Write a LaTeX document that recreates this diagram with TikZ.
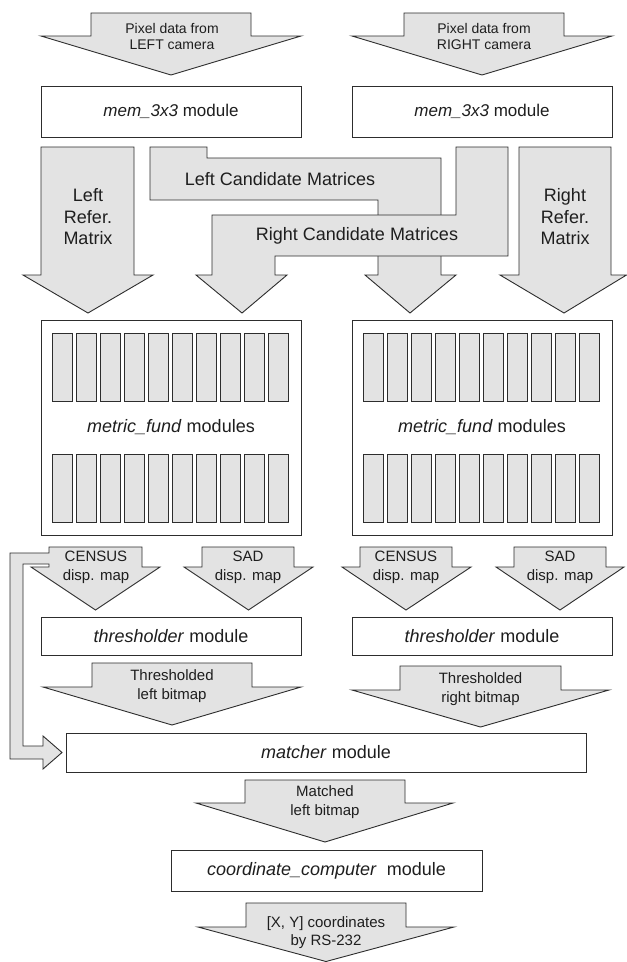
\documentclass[tikz,border=0pt]{standalone}
\usepackage{fontspec}
\setmainfont{Liberation Sans}
\definecolor{fillg}{RGB}{227,227,227}
\definecolor{lineg}{RGB}{45,45,45}
\definecolor{textg}{RGB}{30,30,30}
\newcommand{\fsP}{\fontsize{14bp}{16bp}\selectfont}
\newcommand{\fsM}{\fontsize{17bp}{20bp}\selectfont}
\newcommand{\fsB}{\fontsize{18bp}{21.5bp}\selectfont}
\newcommand{\fsS}{\fontsize{15bp}{18.5bp}\selectfont}
\tikzset{
  blk/.style={fill=fillg, draw=lineg, line width=0.9bp, line join=miter},
  modbox/.style={draw=lineg, fill=white, line width=0.9bp, inner sep=0pt, text=textg, align=center},
  barbox/.style={draw=lineg, fill=fillg, line width=0.9bp},
  lbl/.style={text=textg, align=center, inner sep=0pt},
}
% shaft-left, shaft-right, top, shoulder, wing-left, wing-right, tip-x, tip-y
\newcommand{\blockdown}[8]{\draw[blk] (#1,#3) -- (#2,#3) -- (#2,#4) -- (#6,#4) -- (#7,#8) -- (#5,#4) -- (#1,#4) -- cycle;}
\begin{document}
\begin{tikzpicture}[x=1bp,y=-1bp]
\fill[white] (0,0) rectangle (627,962);
\useasboundingbox (0,0) rectangle (627,962);

% --- camera inputs
\blockdown{91}{251}{13}{36}{41}{301}{171}{75}
\node[lbl, font=\fsP] (pixL) at (172,36) {Pixel data from\\LEFT camera};
\blockdown{404}{564}{13}{36}{352}{612}{482}{75}
\node[lbl, font=\fsP] (pixR) at (484,36) {Pixel data from\\RIGHT camera};

% --- mem_3x3 modules
\node[modbox, minimum width=260bp, minimum height=51bp, font=\fsM] (memL) at (171,111.5) {\textit{mem\_3x3} module};
\node[modbox, minimum width=260bp, minimum height=51bp, font=\fsM] (memR) at (482,111.5) {\textit{mem\_3x3} module};

% --- reference matrices
\blockdown{41}{134}{147}{275}{23}{153}{88}{313}
\node[lbl, font=\fsB] (refL) at (88,217) {Left\\Refer.\\Matrix};
\blockdown{519}{611}{147}{275}{500}{626.5}{564}{313}
\node[lbl, font=\fsB] (refR) at (565,217) {Right\\Refer.\\Matrix};

% --- candidate matrices
\draw[blk] (150,147) -- (207,147) -- (207,158) -- (441,158) -- (441,275) -- (456,275)
  -- (410,313) -- (365,275) -- (378,275) -- (378,200) -- (150,200) -- cycle;
\node[lbl, font=\fsB] (candL) at (280,179) {Left Candidate Matrices};
\draw[blk] (456,147) -- (508,147) -- (508,256) -- (275,256) -- (275,275) -- (287,275)
  -- (242,313) -- (196,275) -- (212,275) -- (212,215) -- (456,215) -- cycle;
\node[lbl, font=\fsB] (candR) at (357,235.5) {Right Candidate Matrices};

% --- metric_fund modules
\node[modbox, minimum width=260bp, minimum height=215bp, font=\fsB] (metL) at (171,427.5) {\textit{metric\_fund} modules};
\node[modbox, minimum width=260bp, minimum height=215bp, font=\fsB] (metR) at (482,427.5) {\textit{metric\_fund} modules};
\foreach \i in {0,...,9} {
  \draw[barbox] ({52+24.1*\i},333) rectangle ++(20,68);
  \draw[barbox] ({52+24.1*\i},454) rectangle ++(20,68);
  \draw[barbox] ({363+24.1*\i},333) rectangle ++(20,68);
  \draw[barbox] ({363+24.1*\i},454) rectangle ++(20,68);
}

% --- disparity maps (left CENSUS with feedback branch to matcher)
\draw[blk] (49,547) -- (142,547) -- (142,567) -- (160,567) -- (95.5,610) -- (31,567)
  -- (49,567) -- (49,564) -- (23,564) -- (23,746) -- (43,746) -- (43,736) -- (62,752.5)
  -- (43,769) -- (43,759) -- (10,759) -- (10,553) -- (49,553) -- cycle;
\node[lbl, font=\fsS] (censL) at (96,567.5) {CENSUS\\disp. map};
\blockdown{202}{294}{547}{567}{184}{313}{248.5}{610}
\node[lbl, font=\fsS] (sadL) at (248,567.5) {SAD\\disp. map};
\blockdown{360}{452}{547}{567}{342}{471}{406}{610}
\node[lbl, font=\fsS] (censR) at (406,567.5) {CENSUS\\disp. map};
\blockdown{514}{606}{547}{567}{496}{624}{560}{610}
\node[lbl, font=\fsS] (sadR) at (560,567.5) {SAD\\disp. map};

% --- thresholder modules
\node[modbox, minimum width=260bp, minimum height=38bp, font=\fsB] (thrL) at (171,636) {\textit{thresholder} module};
\node[modbox, minimum width=260bp, minimum height=38bp, font=\fsB] (thrR) at (482,636) {\textit{thresholder} module};

% --- thresholded bitmaps
\blockdown{92}{252}{663}{687}{43}{301}{172}{725}
\node[lbl, font=\fsS] (tbL) at (172,686) {Thresholded\\left bitmap};
\blockdown{400}{561}{666}{690}{352}{609}{480.5}{727}
\node[lbl, font=\fsS] (tbR) at (480.5,689) {Thresholded\\right bitmap};

% --- matcher
\node[modbox, minimum width=520bp, minimum height=39bp, font=\fsB] (match) at (326,752.5) {\textit{matcher} module};

\blockdown{245}{405}{780}{803}{196}{453}{325}{842}
\node[lbl, font=\fsS] (mlb) at (325,802) {Matched\\left bitmap};

% --- coordinate computer
\node[modbox, minimum width=311bp, minimum height=41bp, font=\fsB] (coord) at (326.5,870.5) {\textit{coordinate\_computer}\ \ module};

\blockdown{246}{406}{903}{927}{198}{454}{326}{961.5}
\node[lbl, font=\fsS] (xy) at (326,932.5) {[X, Y] coordinates\\by RS-232};
\end{tikzpicture}
\end{document}
